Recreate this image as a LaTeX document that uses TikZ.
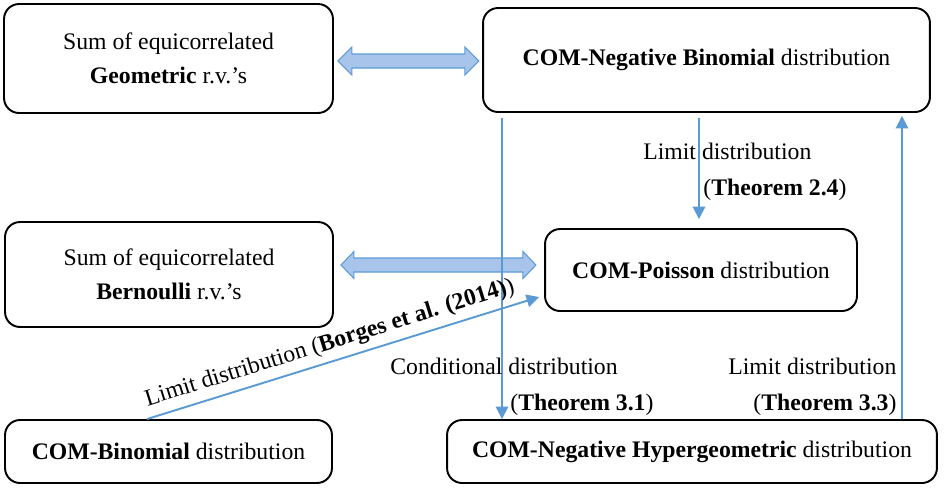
\documentclass[tikz,border=0pt]{standalone}
\usepackage{fontspec}
\setmainfont{Liberation Serif}
\usetikzlibrary{arrows.meta,calc}
\definecolor{linkblue}{HTML}{5B9BD5}
\definecolor{blockfill}{HTML}{A9C4EB}

\begin{document}
\begin{tikzpicture}[
  x=0.02cm, y=-0.02cm,
  every node/.style={font=\fontsize{13.5}{19.5}\selectfont},
  box/.style={draw, rounded corners=0.3cm, line width=1.1pt, align=center, inner sep=0pt},
  link/.style={-{Triangle[length=0.25cm, width=0.25cm]}, draw=linkblue, line width=1.1pt},
  twoway/.style={fill=blockfill, draw=linkblue, line width=0.6pt, line join=miter},
  lbl/.style={inner sep=0pt, anchor=base west},
]
\useasboundingbox (0,0) rectangle (944,488);

% boxes
\node[box, minimum width=6.58cm, minimum height=2.18cm] (geo) at (168.5,58.5)
  {Sum of equicorrelated\\\textbf{Geometric} r.v.'s};
\node[box, minimum width=8.94cm, minimum height=2.08cm] (nbin) at (706.5,60)
  {\textbf{COM-Negative Binomial} distribution};
\node[box, minimum width=6.56cm, minimum height=2.10cm] (bern) at (169,274.5)
  {Sum of equicorrelated\\\textbf{Bernoulli} r.v.'s};
\node[box, minimum width=6.24cm, minimum height=1.64cm] (poi) at (701,270)
  {\textbf{COM-Poisson} distribution};
\node[box, minimum width=6.54cm, minimum height=1.26cm] (binom) at (168.5,451.5)
  {\textbf{COM-Binomial} distribution};
\node[box, minimum width=9.80cm, minimum height=1.26cm] (nhg) at (692,451.5)
  {\textbf{COM-Negative Hypergeometric} distribution};

% two-way block arrows
\coordinate (geotip) at ($(geo.east)+(4,2.5)$);
\draw[twoway] (geotip) -- ++(14,-14) -- ++(0,7) -- ++(113,0) -- ++(0,-7) -- ++(14,14)
  -- ++(-14,14) -- ++(0,-7) -- ++(-113,0) -- ++(0,7) -- cycle;
\coordinate (berntip) at ($(bern.east)+(7,-9.5)$);
\draw[twoway] (berntip) -- ++(13,-13.5) -- ++(0,6.5) -- ++(169,0) -- ++(0,-6.5) -- ++(13,13.5)
  -- ++(-13,13.5) -- ++(0,-6.5) -- ++(-169,0) -- ++(0,6.5) -- cycle;

% vertical links
\coordinate (condx) at (502,0);
\coordinate (limx) at (699,0);
\coordinate (backx) at (902,0);
\draw[link, shorten <=0.1cm] (nbin.south -| condx) -- (nhg.north -| condx);
\draw[link, shorten <=0.1cm, shorten >=0.18cm] (nbin.south -| limx) -- (poi.north -| limx);
\draw[link, shorten >=0.06cm] (nhg.north -| backx) -- (nbin.south -| backx);

% slanted link
\draw[link] ([xshift=2.86cm]binom.north west) -- ([xshift=-0.1cm,yshift=-0.54cm]poi.west)
  node[pos=0.48, above=0pt, sloped] {Limit distribution (\textbf{Borges et al. (2014)})};

% labels
\node[lbl] (lim24) at (643,159) {Limit distribution};
\node[lbl] (thm24) at (703,195) {(\textbf{Theorem 2.4})};
\node[lbl] (cond31) at (390,374) {Conditional distribution};
\node[lbl] (thm31) at (510,410) {(\textbf{Theorem 3.1})};
\node[lbl] (lim33) at (728,374) {Limit distribution};
\node[lbl] (thm33) at (753,410) {(\textbf{Theorem 3.3})};
\end{tikzpicture}
\end{document}
